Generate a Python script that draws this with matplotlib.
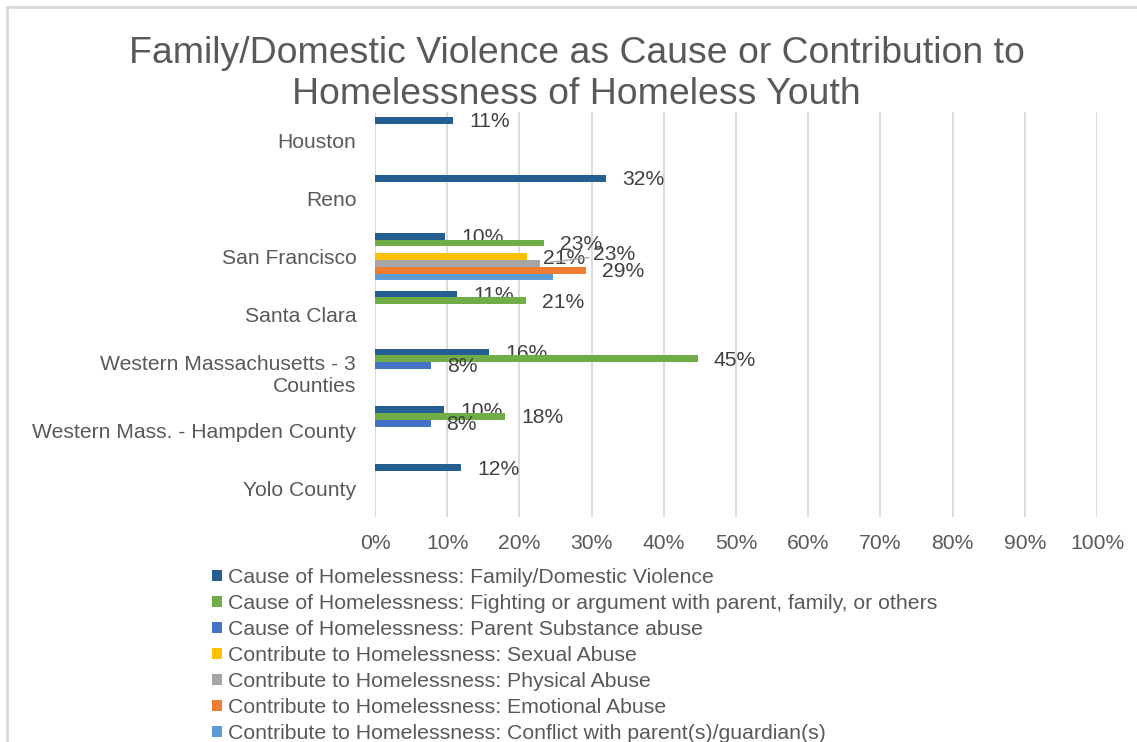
import numpy as np
import matplotlib
matplotlib.use("Agg")
import matplotlib.pyplot as plt
from matplotlib.ticker import PercentFormatter

plt.rcParams['font.family'] = ['Liberation Sans', 'DejaVu Sans']

cities = ["Houston", "Reno", "San Francisco", "Santa Clara",
          "Western Massachusetts - 3\nCounties", "Western Mass. - Hampden County",
          "Yolo County"]

series_names = [
    "Cause of Homelessness: Family/Domestic Violence",
    "Cause of Homelessness: Fighting or argument with parent, family, or others",
    "Cause of Homelessness: Parent Substance abuse",
    "Contribute to Homelessness: Sexual Abuse",
    "Contribute to Homelessness: Physical Abuse",
    "Contribute to Homelessness: Emotional Abuse",
    "Contribute to Homelessness: Conflict with parent(s)/guardian(s)",
]

nan = np.nan
family_violence = [0.108, 0.320, 0.097, 0.114, 0.158, 0.096, 0.119]
fighting = [nan, nan, 0.234, 0.209, 0.447, 0.180, nan]
parent_substance = [nan, nan, nan, nan, 0.078, 0.077, nan]
sexual_abuse = [nan, nan, 0.211, nan, nan, nan, nan]
physical_abuse = [nan, nan, 0.229, nan, nan, nan, nan]
emotional_abuse = [nan, nan, 0.292, nan, nan, nan, nan]
conflict_guardian = [nan, nan, 0.246, nan, nan, nan, nan]

series = [family_violence, fighting, parent_substance, sexual_abuse,
          physical_abuse, emotional_abuse, conflict_guardian]
colors = ["#255e91", "#70ad47", "#4472c4", "#ffc000", "#a5a5a5", "#ed7d31", "#5b9bd5"]
# which bars carry a value label
show_label = [True, True, True, True, True, True, False]

text_gray = "#595959"
fs = 15.2

fig = plt.figure(figsize=(11.37, 7.42), dpi=100)
ax = fig.add_axes([375 / 1137, 225 / 742, 722 / 1137, 405 / 742])

n = len(series)
h = 1 / (n + 1.5)
y = np.arange(len(cities))

for j, (vals, col) in enumerate(zip(series, colors)):
    ypos = y + (j - (n - 1) / 2) * h
    ax.barh(ypos, vals, height=h, color=col, label=series_names[j], zorder=3)
    if not show_label[j]:
        continue
    for yi, v, c in zip(ypos, vals, cities):
        if np.isnan(v):
            continue
        if c == "San Francisco" and j == 4:
            # moved label with a leader line
            ax.annotate(f"{v * 100:.0f}%", xy=(v, yi), xytext=(38, 6.5),
                        textcoords="offset points", ha="left", va="center",
                        fontsize=fs, color="#404040",
                        arrowprops=dict(arrowstyle="-", color="#a6a6a6",
                                        lw=1, shrinkA=1, shrinkB=7))
        else:
            ax.annotate(f"{v * 100:.0f}%", xy=(v, yi), xytext=(11.5, -1),
                        textcoords="offset points", ha="left", va="center",
                        fontsize=fs, color="#404040")

ax.set_ylim(len(cities) - 0.5, -0.5)
ax.set_xlim(0, 1)
ax.set_yticks(y)
ax.set_yticklabels(cities)
ax.set_xticks(np.linspace(0, 1, 11))
ax.xaxis.set_major_formatter(PercentFormatter(1.0, decimals=0))
ax.tick_params(axis="both", length=0, labelsize=fs, colors=text_gray)
ax.tick_params(axis="x", pad=12)
ax.tick_params(axis="y", pad=13.5)
ax.grid(axis="x", color="#d9d9d9", lw=1.3, zorder=0)
for s in ax.spines.values():
    s.set_visible(False)
ax.axvline(0, color="#d9d9d9", lw=1.3, zorder=1)

fig.text(0.507, 0.9, "Family/Domestic Violence as Cause or Contribution to\nHomelessness of Homeless Youth",
         ha="center", va="center", fontsize=26.9, color=text_gray, linespacing=1.24)

fig.legend(loc="upper left", bbox_to_anchor=(212 / 1137, 1 - 568 / 742),
           frameon=False, fontsize=15.3, labelcolor=text_gray,
           handlelength=0.45, handleheight=0.45, handletextpad=0.3,
           labelspacing=0.33, borderaxespad=0, borderpad=0)

# chart frame (top and left edges)
fig.add_artist(plt.Line2D([7 / 1137, 1], [1 - 7 / 742, 1 - 7 / 742], color="#d9d9d9", lw=2,
                          transform=fig.transFigure))
fig.add_artist(plt.Line2D([7 / 1137, 7 / 1137], [0, 1 - 7 / 742], color="#d9d9d9", lw=2,
                          transform=fig.transFigure))

fig.savefig("out.png", dpi=100)
